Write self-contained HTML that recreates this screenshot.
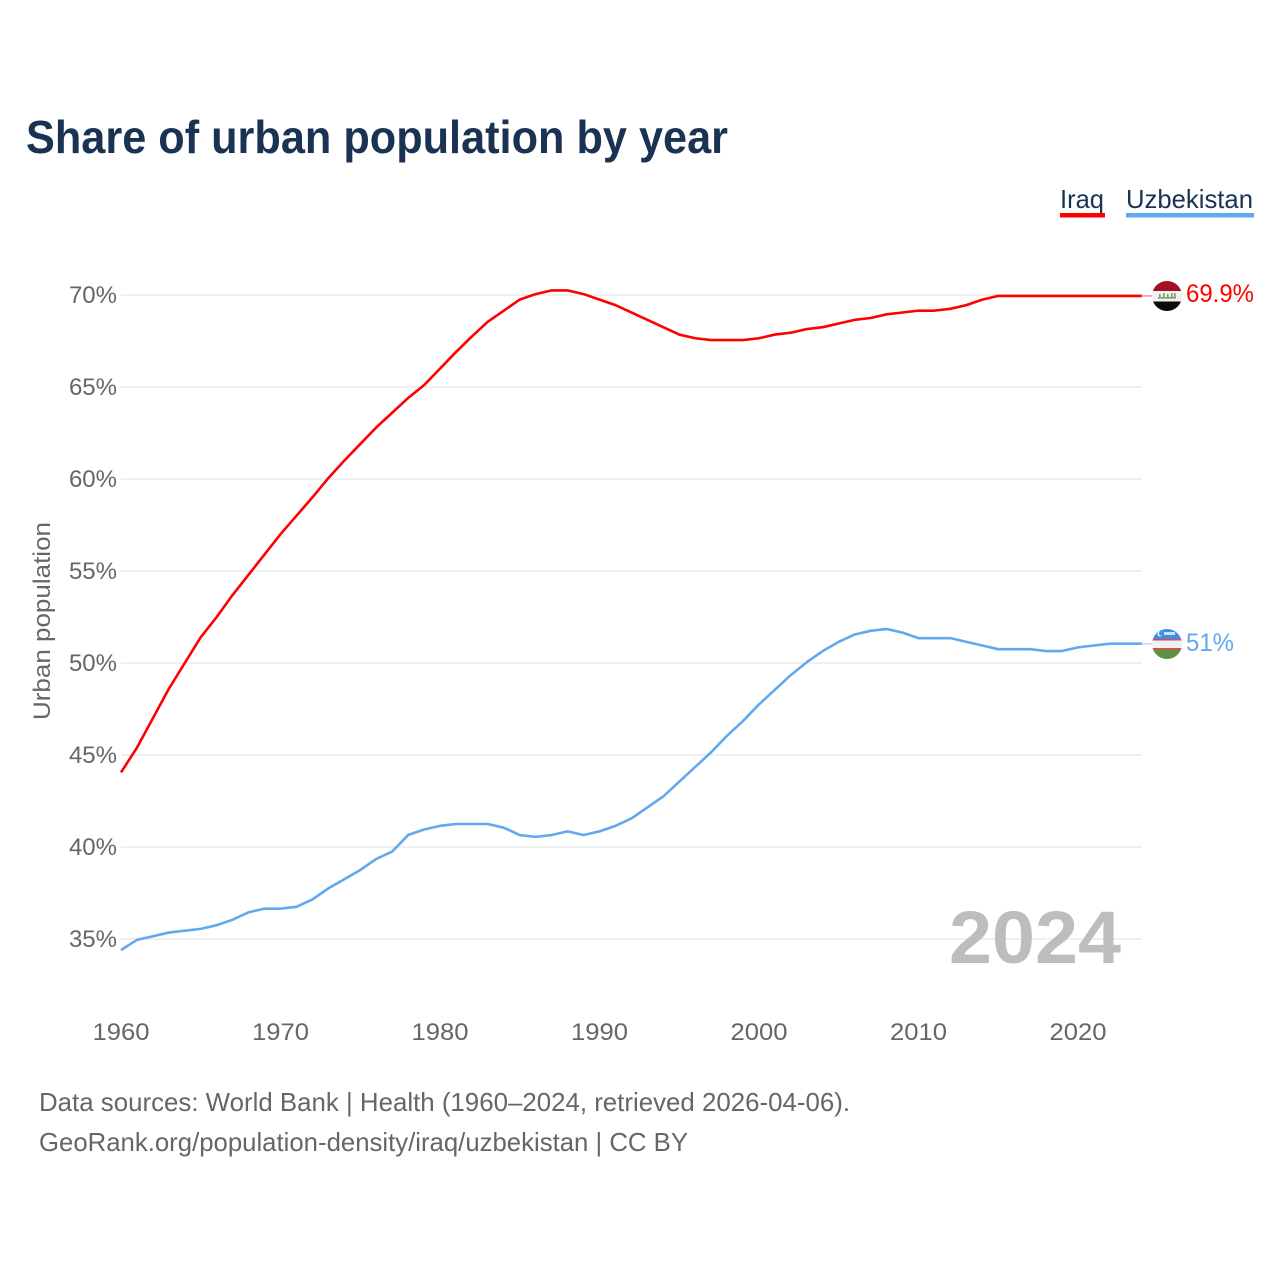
<!DOCTYPE html>
<html lang="en">
<head>
<meta charset="utf-8">
<title>Share of urban population by year</title>
<style>
html,body{margin:0;padding:0;background:#fff;}
svg{display:block;font-family:"Liberation Sans",sans-serif;}
</style>
</head>
<body>
<svg id="chart" xmlns="http://www.w3.org/2000/svg" width="1280" height="1280" viewBox="0 0 1280 1280">
  <defs>
    <clipPath id="flag-clip-iraq"><circle cx="1167" cy="296" r="15"/></clipPath>
    <clipPath id="flag-clip-uzbekistan"><circle cx="1167" cy="644" r="15"/></clipPath>
  </defs>
  <text x="26" y="153" font-size="46" font-weight="700" fill="#1a3353" textLength="702" lengthAdjust="spacingAndGlyphs">Share of urban population by year</text>

  <text x="1060" y="208" font-size="26" fill="#1a3353" textLength="44" lengthAdjust="spacingAndGlyphs">Iraq</text>
  <rect x="1060" y="213" width="45" height="4.5" fill="#ff0000"/>
  <text x="1126" y="208" font-size="26" fill="#1a3353" textLength="127" lengthAdjust="spacingAndGlyphs">Uzbekistan</text>
  <rect x="1126" y="213" width="128" height="4.5" fill="#62a8ee"/>

  <g id="grid"></g>
  <g id="yticks"></g>
  <g id="xticks"></g>

  <text transform="translate(50,621) rotate(-90)" text-anchor="middle" font-size="24" fill="#666666" textLength="198" lengthAdjust="spacingAndGlyphs">Urban population</text>

  <text x="949" y="963" font-size="74" font-weight="700" fill="#bdbdbd" textLength="172" lengthAdjust="spacingAndGlyphs">2024</text>

  <g id="series"></g>

  <g clip-path="url(#flag-clip-iraq)">
    <rect x="1152" y="281" width="30" height="10" fill="#a50f26"/>
    <rect x="1152" y="291" width="30" height="10.5" fill="#f1f1f1"/>
    <rect x="1152" y="301.5" width="30" height="11" fill="#0b0b0b"/>
    <rect x="1158" y="297" width="18" height="1.6" fill="#7ba05b"/>
    <rect x="1159" y="294" width="1.6" height="3" fill="#7ba05b"/>
    <rect x="1163" y="293" width="1.6" height="4" fill="#7ba05b"/>
    <rect x="1167" y="294" width="1.6" height="3" fill="#7ba05b"/>
    <rect x="1171" y="293" width="1.6" height="4" fill="#7ba05b"/>
    <rect x="1174" y="293" width="1.6" height="4" fill="#7ba05b"/>
  </g>
  <g clip-path="url(#flag-clip-uzbekistan)">
    <rect x="1152" y="628" width="30" height="11" fill="#3b8fe8"/>
    <rect x="1152" y="639" width="30" height="10" fill="#f1f1f1"/>
    <rect x="1152" y="639" width="30" height="1.5" fill="#e0455a"/>
    <rect x="1152" y="648" width="30" height="1.5" fill="#e0455a"/>
    <rect x="1152" y="649.5" width="30" height="11" fill="#5e9140"/>
    <circle cx="1160" cy="634" r="2.5" fill="#ffffff"/>
    <circle cx="1161" cy="633.5" r="2.2" fill="#3b8fe8"/>
    <rect x="1164" y="632" width="11" height="3" fill="#cfe3fa"/>
  </g>

  <text id="label-iraq" x="1186" y="302" font-size="25" fill="#ff0000" textLength="68" lengthAdjust="spacingAndGlyphs"></text>
  <text id="label-uzbekistan" x="1186" y="651" font-size="25" fill="#62a8ee" textLength="48" lengthAdjust="spacingAndGlyphs"></text>

  <text x="39" y="1111" font-size="26" fill="#666666" textLength="811" lengthAdjust="spacingAndGlyphs">Data sources: World Bank | Health (1960–2024, retrieved 2026-04-06).</text>
  <text x="39" y="1151" font-size="26" fill="#666666" textLength="649" lengthAdjust="spacingAndGlyphs">GeoRank.org/population-density/iraq/uzbekistan | CC BY</text>
</svg>
<script>
const startYear = 1960;
const yTickValues = [35, 40, 45, 50, 55, 60, 65, 70];
const xTickValues = [1960, 1970, 1980, 1990, 2000, 2010, 2020];
const iraqValues = [44.05,45.4,47.0,48.6,50.0,51.4,52.5,53.7,54.8,55.9,57.0,58.0,59.0,60.05,61.0,61.9,62.8,63.6,64.4,65.1,66.0,66.9,67.75,68.55,69.15,69.75,70.05,70.25,70.25,70.05,69.75,69.45,69.05,68.65,68.25,67.85,67.65,67.55,67.55,67.55,67.65,67.85,67.95,68.15,68.25,68.45,68.65,68.75,68.95,69.05,69.15,69.15,69.25,69.45,69.75,69.95,69.95,69.95,69.95,69.95,69.95,69.95,69.95,69.95,69.95];
const uzbekistanValues = [34.4,34.95,35.15,35.35,35.45,35.55,35.75,36.05,36.45,36.65,36.65,36.75,37.15,37.75,38.25,38.75,39.35,39.75,40.65,40.95,41.15,41.25,41.25,41.25,41.05,40.65,40.55,40.65,40.85,40.65,40.85,41.15,41.55,42.15,42.75,43.55,44.35,45.15,46.05,46.85,47.75,48.55,49.35,50.05,50.65,51.15,51.55,51.75,51.85,51.65,51.35,51.35,51.35,51.15,50.95,50.75,50.75,50.75,50.65,50.65,50.85,50.95,51.05,51.05,51.05];
const iraqLabel = "69.9%";
const uzbekistanLabel = "51%";

const NS = "http://www.w3.org/2000/svg";
function xScale(year) { return 121 + (year - 1960) * 15.95; }
function yScale(pct) { return 939 - (pct - 35) * 18.4; }
function make(tag, parent, attrs) {
  const el = document.createElementNS(NS, tag);
  for (const k in attrs) el.setAttribute(k, attrs[k]);
  parent.appendChild(el);
  return el;
}

const grid = document.getElementById("grid");
const yticks = document.getElementById("yticks");
const xticks = document.getElementById("xticks");
const series = document.getElementById("series");

yTickValues.forEach(function (v) {
  const line = make("line", grid, { x1: 121, x2: 1142, y1: yScale(v), y2: yScale(v), stroke: "#f0f0f0", "stroke-width": 2 });
  
  
  const t = make("text", yticks, { x: 117, y: yScale(v) + 8, "text-anchor": "end", "font-size": 24, fill: "#666666" });
  
  
  t.textContent = v + "%";
});

xTickValues.forEach(function (y) {
  const t = make("text", xticks, { x: xScale(y), y: 1040, "text-anchor": "middle", "font-size": 24, fill: "#666666", textLength: 57, lengthAdjust: "spacingAndGlyphs" });
  
  
  t.textContent = y;
});

function points(values) {
  return values.map(function (v, i) { return xScale(startYear + i).toFixed(2) + "," + yScale(v).toFixed(2); }).join(" ");
}

const iraqLine = make("polyline", series, { points: points(iraqValues), fill: "none", stroke: "#ff0000", "stroke-width": 2.6, "stroke-linejoin": "round" });



const uzbekistanLine = make("polyline", series, { points: points(uzbekistanValues), fill: "none", stroke: "#62a8ee", "stroke-width": 2.6, "stroke-linejoin": "round" });



const iraqConnector = make("line", series, { x1: xScale(2024), x2: 1152, y1: yScale(iraqValues[iraqValues.length - 1]), y2: yScale(iraqValues[iraqValues.length - 1]), stroke: "#ff0000", "stroke-width": 1.5, "stroke-opacity": 0.45 });



const uzbekistanConnector = make("line", series, { x1: xScale(2024), x2: 1152, y1: yScale(uzbekistanValues[uzbekistanValues.length - 1]), y2: yScale(uzbekistanValues[uzbekistanValues.length - 1]), stroke: "#62a8ee", "stroke-width": 1.5, "stroke-opacity": 0.45 });



document.getElementById("label-iraq").textContent = iraqLabel;
document.getElementById("label-uzbekistan").textContent = uzbekistanLabel;
</script>
</body>
</html>
